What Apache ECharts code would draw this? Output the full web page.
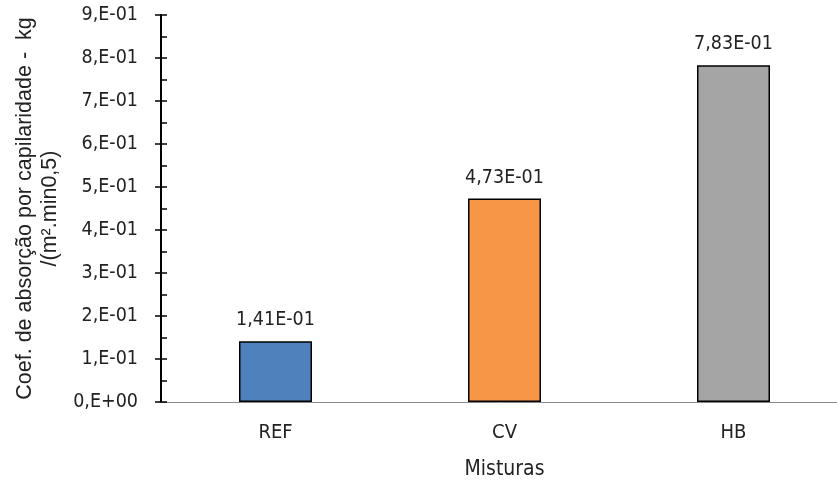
<!DOCTYPE html>
<html>
<head>
<meta charset="utf-8">
<script src="https://cdn.jsdelivr.net/npm/echarts@6/dist/echarts.min.js"></script>
<style>
html,body{margin:0;padding:0;background:#fff;}
#chart{width:837px;height:484px;}
</style>
</head>
<body>
<div id="chart"></div>
<script>
// Capillary absorption coefficient per mix
const categories = ['REF', 'CV', 'HB'];
const values = [0.141, 0.473, 0.783];
const barColors = ['#4F81BD', '#F79646', '#A5A5A5'];
const yTitle = 'Coef. de absorção por capilaridade -  kg\n/(m².min0,5)';
const xTitle = 'Misturas';

const FONT = '"DejaVu Sans Condensed", "DejaVu Sans", sans-serif';
const TITLE_FONT = '"Liberation Sans", Arial, sans-serif';

// Scientific notation with comma decimal separator, e.g. 1,41E-01
function sci(v, digits) {
  if (v === 0) return '0,E+00';
  const s = v.toExponential(digits);
  let [m, e] = s.split('e');
  const sign = e[0] === '-' ? '-' : '+';
  const exp = Math.abs(parseInt(e, 10)).toString().padStart(2, '0');
  m = m.replace('.', ',');
  if (digits === 0) m = m + ',';
  return m + 'E' + sign + exp;
}

const chart = echarts.init(document.getElementById('chart'));
chart.setOption({
  animation: false,
  grid: { left: 161, top: 15, bottom: 82, right: -11, outerBoundsMode: 'none', containLabel: false },
  xAxis: {
    type: 'category',
    data: categories,
    name: xTitle,
    nameLocation: 'middle',
    nameGap: 57,
    nameTextStyle: { fontFamily: FONT, fontSize: 21, color: '#222' },
    axisLine: { lineStyle: { color: '#888', width: 1 } },
    axisTick: { show: false },
    axisLabel: { fontFamily: FONT, fontSize: 20, color: '#222', margin: 21 }
  },
  yAxis: [{
    type: 'value',
    min: 0, max: 0.9, interval: 0.1,
    name: yTitle,
    nameLocation: 'middle',
    nameGap: 98,
    nameTextStyle: { fontFamily: TITLE_FONT, fontSize: 21.5, color: '#222', lineHeight: 25, align: 'center' },
    axisLine: { show: true, lineStyle: { color: '#000', width: 2 } },
    axisTick: { show: true, inside: false, length: 6, lineStyle: { color: '#000', width: 1.5 } },
    axisLabel: { fontFamily: FONT, fontSize: 19.5, color: '#222', margin: 23, formatter: v => sci(v, 0) },
    splitLine: { show: false }
  }, {
    type: 'value',
    position: 'left',
    min: 0, max: 0.9, interval: 0.1,
    axisLine: { show: false },
    axisTick: { show: true, inside: true, length: 6, lineStyle: { color: '#000', width: 1.5 } },
    minorTick: { show: true, splitNumber: 2, length: 6, lineStyle: { color: '#000', width: 1.5 } },
    axisLabel: { show: false },
    splitLine: { show: false }
  }],
  series: [{
    type: 'bar',
    yAxisIndex: 0,
    barWidth: 73,
    data: values.map((v, i) => ({
      value: v,
      itemStyle: { color: barColors[i], borderColor: '#000', borderWidth: 1.5 }
    })),
    label: {
      show: true,
      position: 'top',
      distance: 11,
      fontFamily: FONT,
      fontSize: 19.5,
      color: '#222',
      formatter: p => sci(p.value, 2)
    }
  }]
});
</script>
</body>
</html>
